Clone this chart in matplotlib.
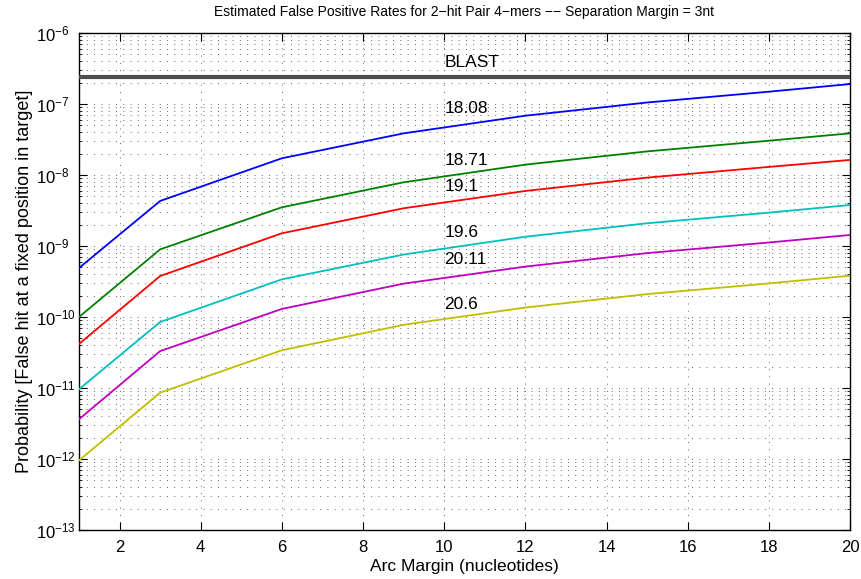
import matplotlib
matplotlib.use("Agg")
import matplotlib.pyplot as plt
import numpy as np
from matplotlib.ticker import LogLocator, FixedLocator, NullFormatter, LogFormatterSciNotation

plt.rcParams['font.family'] = ['Liberation Sans', 'DejaVu Sans']
plt.rcParams['mathtext.fontset'] = 'custom'
plt.rcParams['mathtext.rm'] = 'Liberation Sans'

# ---- data ----
arc_margin = [1, 3, 6, 9, 12, 15, 18, 20]
p_18_08 = [4.9e-10, 4.31e-9, 1.72e-8, 3.86e-8, 6.84e-8, 1.05e-7, 1.49e-7, 1.91e-7]
p_18_71 = [1.0e-10, 8.97e-10, 3.51e-9, 7.89e-9, 1.40e-8, 2.15e-8, 3.04e-8, 3.86e-8]
p_19_1 = [4.17e-11, 3.78e-10, 1.51e-9, 3.40e-9, 5.96e-9, 9.18e-9, 1.30e-8, 1.63e-8]
p_19_6 = [9.6e-12, 8.5e-11, 3.39e-10, 7.59e-10, 1.35e-9, 2.09e-9, 2.95e-9, 3.78e-9]
p_20_11 = [3.63e-12, 3.31e-11, 1.30e-10, 2.95e-10, 5.13e-10, 7.94e-10, 1.12e-9, 1.43e-9]
p_20_6 = [9.55e-13, 8.59e-12, 3.40e-11, 7.76e-11, 1.36e-10, 2.10e-10, 2.97e-10, 3.82e-10]
blast_level = 2.38e-7

series = [p_18_08, p_18_71, p_19_1, p_19_6, p_20_11, p_20_6]
series_labels = ['18.08', '18.71', '19.1', '19.6', '20.11', '20.6']
label_x = 10
label_y = [8.7e-8, 1.58e-8, 6.8e-9, 1.56e-9, 6.5e-10, 1.52e-10]
blast_label_y = 3.82e-7
x_ticks = list(range(2, 21, 2))
y_ticks = [1e-13, 1e-12, 1e-11, 1e-10, 1e-9, 1e-8, 1e-7, 1e-6]
colors = [(0, 0, 1), (0, 0.5, 0), (1, 0, 0), (0, 0.75, 0.75), (0.75, 0, 0.75), (0.75, 0.75, 0)]

fig = plt.figure(figsize=(8.61, 5.79), dpi=100)
ax = fig.add_axes([79/861, 1 - 530/579, (850-79)/861, (530-33)/579])

grid_ls = (0, (1, 6.5))
ax.set_yscale('log')
ax.set_xlim(1, 20)
ax.set_ylim(1e-13, 1e-6)

ax.xaxis.set_major_locator(FixedLocator(x_ticks))
ax.yaxis.set_major_locator(FixedLocator(y_ticks))
ax.yaxis.set_major_formatter(LogFormatterSciNotation())
ax.yaxis.set_minor_locator(LogLocator(base=10, subs=np.arange(2, 10), numticks=20))
ax.yaxis.set_minor_formatter(NullFormatter())

ax.grid(True, which='major', axis='both', linestyle=grid_ls, color='0.4', linewidth=0.7)
ax.grid(True, which='minor', axis='y', linestyle=grid_ls, color='0.4', linewidth=0.7)
ax.set_axisbelow(True)

ax.axhline(blast_level, color='0.3', linewidth=3.0, zorder=3)
ax.text(label_x, blast_label_y, 'BLAST', ha='left', va='center', fontsize=12.5)

for vals, lab, c, ly in zip(series, series_labels, colors, label_y):
    ax.plot(arc_margin, vals, color=c, linewidth=1.3, zorder=4)
    ax.text(label_x, ly, lab, ha='left', va='center', fontsize=12.5)

ax.tick_params(which='both', direction='in', top=True, right=True, labelsize=12)
ax.tick_params(which='major', length=5.5, width=0.8)
ax.tick_params(which='minor', length=2.5, width=0.6)
ax.tick_params(axis='x', pad=7)
ax.tick_params(axis='y', pad=31)
for lbl in ax.get_yticklabels():
    lbl.set_horizontalalignment('left')
for s in ax.spines.values():
    s.set_linewidth(1.0)

ax.set_title('Estimated False Positive Rates for 2\u2212hit Pair 4\u2212mers \u2212\u2212 Separation Margin = 3nt',
             fontsize=10, pad=12)
ax.set_xlabel('Arc Margin (nucleotides)', fontsize=12.5, labelpad=3)
ax.set_ylabel('Probability [False hit at a fixed position in target]', fontsize=13, labelpad=2)

fig.savefig('out.png', dpi=100)
